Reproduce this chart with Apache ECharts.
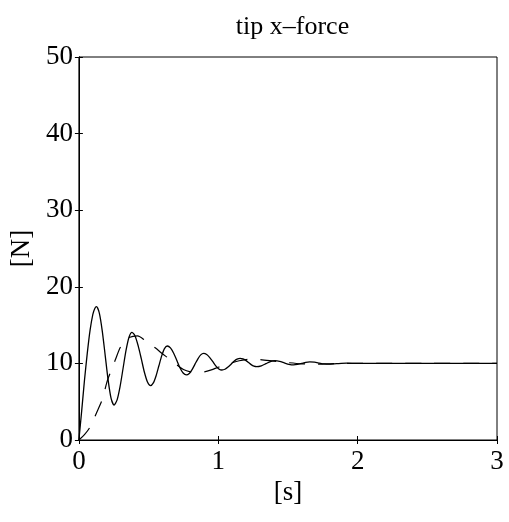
<!DOCTYPE html>
<html>
<head>
<meta charset="utf-8">
<script src="https://cdn.jsdelivr.net/npm/echarts@6/dist/echarts.min.js"></script>
<style>html,body{margin:0;padding:0;background:#fff}#c{width:509px;height:522px}</style>
</head>
<body>
<div id="c"></div>
<script>
const titleText = 'tip x\u2013force';
const xTicks = [0, 1, 2, 3];
const yTicks = [0, 10, 20, 30, 40, 50];

// solid curve: time [s] and force [N]
const solidT = [0,0.02,0.04,0.06,0.08,0.10,0.115,0.126,0.147,0.168,0.189,0.21,0.231,0.252,0.2735,0.295,0.3165,0.338,0.3595,0.381,0.403,0.425,0.448,0.47,0.492,0.514,0.534,0.554,0.574,0.594,0.614,0.634,0.657,0.68,0.703,0.725,0.748,0.771,0.792,0.812,0.833,0.854,0.874,0.895,0.917,0.939,0.961,0.982,1.004,1.026,1.048,1.07,1.092,1.113,1.135,1.157,1.177,1.197,1.217,1.236,1.256,1.276,1.309,1.342,1.374,1.407,1.44,1.474,1.507,1.54,1.569,1.599,1.628,1.657,1.69,1.724,1.757,1.79,1.85,1.92,2.0,2.5,3.0];
const solidF = [0,3.8,7.8,11.3,14.3,16.4,17.2,17.4,16.54,14.19,10.99,7.78,5.43,4.57,5.2,6.94,9.3,11.69,13.42,14.06,13.59,12.32,10.58,8.84,7.57,7.1,7.45,8.39,9.69,10.98,11.92,12.27,12.02,11.33,10.38,9.43,8.74,8.49,8.68,9.19,9.9,10.6,11.11,11.3,11.16,10.76,10.22,9.68,9.28,9.14,9.24,9.52,9.9,10.28,10.56,10.66,10.59,10.39,10.12,9.84,9.64,9.57,9.68,9.96,10.24,10.35,10.27,10.07,9.88,9.8,9.86,10.0,10.14,10.2,10.16,10.05,9.94,9.9,9.97,10.03,10.0,10.0,10.0];

// dashed curve
const dashT = [0,0.04,0.08,0.13,0.17,0.2,0.23,0.26,0.3,0.35,0.42,0.48,0.55,0.59,0.64,0.69,0.75,0.8,0.85,0.9,0.95,1.0,1.05,1.1,1.15,1.2,1.25,1.3,1.4,1.5,1.6,1.7,1.8,1.9,2.0,2.5,3.0];
const dashF = [0,0.7,1.7,3.7,5.4,7.5,9.0,10.4,12.2,13.3,13.6,12.9,12.0,11.4,10.7,10.0,9.2,8.9,8.85,8.9,9.15,9.5,9.8,10.1,10.35,10.5,10.55,10.5,10.3,10.1,9.95,9.9,9.95,10.0,10.0,10.0,10.0];

const solid = solidT.map((t, i) => [t, solidF[i]]);
const dashed = dashT.map((t, i) => [t, dashF[i]]);

const font = 'Liberation Serif';
const fs = 27;
const chart = echarts.init(document.getElementById('c'));
const L = 78, R = 497, T = 57, B = 440;
chart.setOption({
  animation: false,
  backgroundColor: '#fff',
  title: {
    text: titleText,
    left: (L + R) / 2,
    top: 9,
    textAlign: 'center',
    textStyle: { fontFamily: font, fontSize: 26, fontWeight: 'normal', color: '#000' }
  },
  grid: { left: L, right: 509 - R, top: T, bottom: 522 - B, show: true, borderColor: '#000', borderWidth: 1, backgroundColor: 'transparent' },
  xAxis: [{
    type: 'value', min: xTicks[0], max: xTicks[xTicks.length - 1], interval: 1,
    name: '[s]', nameLocation: 'middle', nameGap: 36,
    nameTextStyle: { fontFamily: font, fontSize: fs, color: '#000' },
    axisLine: { show: true, lineStyle: { color: '#000', width: 1 } },
    axisTick: { show: true, inside: true, length: 4, lineStyle: { color: '#000' } },
    axisLabel: { fontFamily: font, fontSize: fs, color: '#000', margin: 8 },
    splitLine: { show: false }
  }, {
    type: 'value', position: 'top', min: 0, max: 3, interval: 1,
    axisLine: { show: true, lineStyle: { color: '#000' } },
    axisTick: { show: true, inside: true, length: 4, lineStyle: { color: '#000' } },
    axisLabel: { show: false }, splitLine: { show: false }
  }],
  yAxis: [{
    type: 'value', min: yTicks[0], max: yTicks[yTicks.length - 1], interval: 10,
    name: '[N]', nameLocation: 'middle', nameGap: 43, nameRotate: 90,
    nameTextStyle: { fontFamily: font, fontSize: fs, color: '#000' },
    axisLine: { show: true, lineStyle: { color: '#000', width: 1 } },
    axisTick: { show: true, inside: true, length: 4, lineStyle: { color: '#000' } },
    axisLabel: { fontFamily: font, fontSize: fs, color: '#000', margin: 6 },
    splitLine: { show: false }
  }, {
    type: 'value', position: 'right', min: 0, max: 50, interval: 10,
    axisLine: { show: true, lineStyle: { color: '#000' } },
    axisTick: { show: true, inside: true, length: 4, lineStyle: { color: '#000' } },
    axisLabel: { show: false }, splitLine: { show: false }
  }],
  series: [{
    type: 'line', data: solid, showSymbol: false, smooth: 0.25,
    lineStyle: { color: '#000', width: 1.3 }, z: 3
  }, {
    type: 'line', data: dashed, showSymbol: false, smooth: 0.3,
    lineStyle: { color: '#000', width: 1.2, type: [16, 13] }, z: 2
  }]
});
</script>
</body>
</html>
